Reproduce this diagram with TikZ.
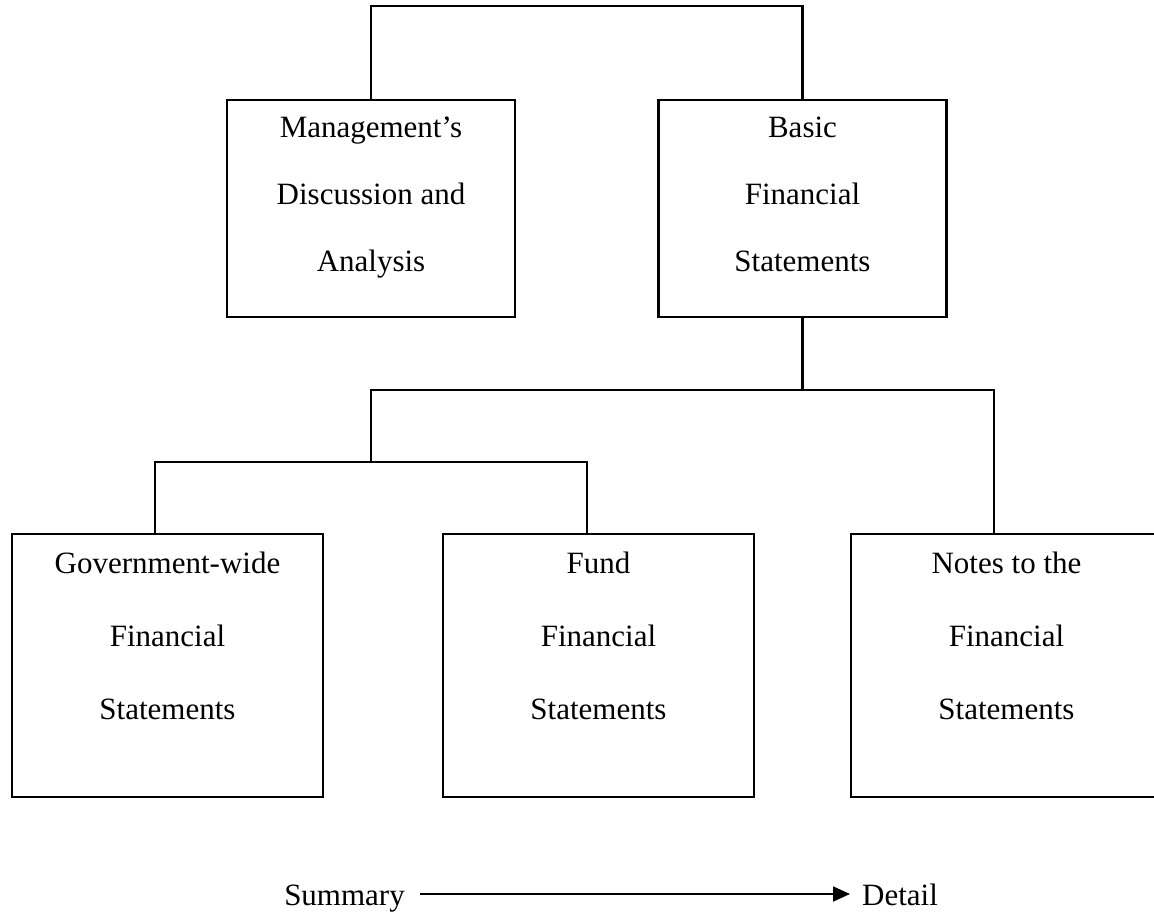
\documentclass[tikz,border=0pt]{standalone}
\usepackage{fontspec}
\setmainfont{Liberation Serif}
\usetikzlibrary{arrows.meta}
\begin{document}
\begin{tikzpicture}[x=1pt,y=-1pt,
  box/.style={draw,line width=2.4pt,inner sep=0pt},
  upbox/.style={box,minimum width=288pt,minimum height=217pt},
  lowbox/.style={box,minimum width=311pt,minimum height=263pt},
  uptxt/.style={anchor=north,inner sep=0pt,align=center,font=\fontsize{31}{67}\selectfont,yshift=-18pt},
  lowtxt/.style={anchor=north,inner sep=0pt,align=center,font=\fontsize{31}{73}\selectfont,yshift=-19pt},
  conn/.style={line width=2.4pt},
  plain/.style={inner sep=0pt,font=\fontsize{31}{36}\selectfont}]
\useasboundingbox (0,0) rectangle (1154,913);
% top row
\node[upbox] (mda) at (371,208.5) {};
\node[upbox] (bfs) at (802.5,208.5) {};
\node[uptxt] (mdat) at (mda.north) {Management’s\\Discussion and\\Analysis};
\node[uptxt] (bfst) at (bfs.north) {Basic\\Financial\\Statements};
% bottom row
\node[lowbox] (gov) at (167.5,665.5) {};
\node[lowbox] (fund) at (598.5,665.5) {};
\node[lowbox] (notes) at (1006.5,665.5) {};
\node[lowtxt] (govt) at (gov.north) {Government-wide\\Financial\\Statements};
\node[lowtxt] (fundt) at (fund.north) {Fund\\Financial\\Statements};
\node[lowtxt] (notest) at (notes.north) {Notes to the\\Financial\\Statements};
% connector coordinates
\coordinate (topbar) at (0,6);
\coordinate (bar1) at (0,390);
\coordinate (bar2) at (0,462);
\coordinate (govstem) at (155,0);
\coordinate (fundstem) at (587,0);
\coordinate (notesstem) at (994,0);
% connectors
\draw[conn] (mda.north) -- (mda.north |- topbar) -- (bfs.north |- topbar) -- (bfs.north);
\draw[conn] (bfs.south) -- (bfs.south |- bar1);
\draw[conn] (mda.north |- bar2) -- (mda.north |- bar1) -- (notesstem |- bar1) -- (notesstem |- notes.north);
\draw[conn] (govstem |- gov.north) -- (govstem |- bar2) -- (fundstem |- bar2) -- (fundstem |- fund.north);
% summary -> detail
\coordinate (arrowy) at (0,894);
\node[plain,anchor=base east] (sum) at (405,905) {Summary};
\node[plain,anchor=base west] (det) at (862,905) {Detail};
\draw[line width=1.8pt,-{Triangle[length=17pt,width=15pt]}] ([xshift=15pt]sum.east |- arrowy) -- ([xshift=-12pt]det.west |- arrowy);
\end{tikzpicture}
\end{document}
